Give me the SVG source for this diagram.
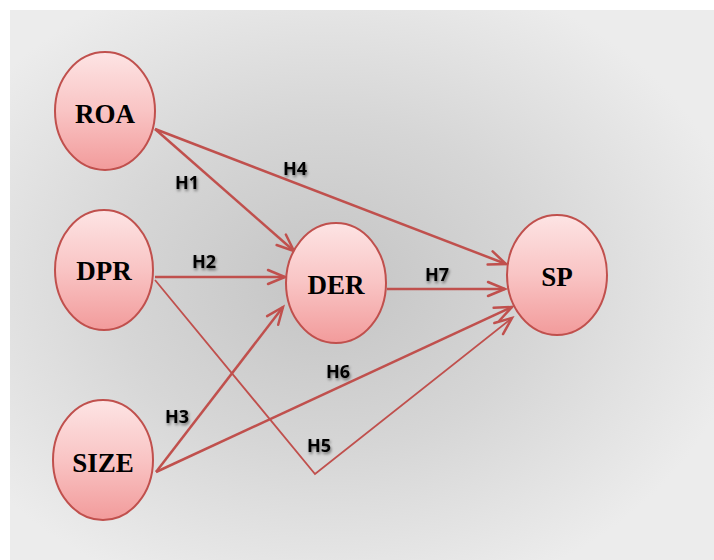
<svg xmlns="http://www.w3.org/2000/svg" width="714" height="560" viewBox="0 0 714 560">
<defs>
<radialGradient id="bg" cx="0.45" cy="0.5" r="0.6">
<stop offset="0" stop-color="#c4c4c4"/>
<stop offset="0.5" stop-color="#d6d6d6"/>
<stop offset="1" stop-color="#ececec"/>
</radialGradient>
<linearGradient id="nodeFill" x1="0" y1="0" x2="0" y2="1">
<stop offset="0" stop-color="#fde4e4"/>
<stop offset="0.5" stop-color="#f9c4c4"/>
<stop offset="1" stop-color="#f29b9b"/>
</linearGradient>
<marker id="arr" viewBox="0 0 12 12" refX="11" refY="6" markerWidth="12" markerHeight="12" markerUnits="userSpaceOnUse" orient="auto" overflow="visible">
<path d="M-6,-1 L11,6 L-6,13" fill="none" stroke="#c0504d" stroke-width="2.5" stroke-linecap="round" stroke-linejoin="miter"/>
</marker>
<filter id="shadow" x="-20%" y="-20%" width="150%" height="160%">
<feGaussianBlur in="SourceAlpha" stdDeviation="1.5"/>
<feOffset dx="1" dy="2" result="b"/>
<feComponentTransfer><feFuncA type="linear" slope="0.5"/></feComponentTransfer>
<feMerge><feMergeNode/><feMergeNode in="SourceGraphic"/></feMerge>
</filter>
</defs>
<style>
.node ellipse{fill:url(#nodeFill);stroke:#c0504d;stroke-width:2}
.node text{font-family:"Liberation Serif","Times New Roman",serif;font-weight:bold;font-size:27px;fill:#000;text-anchor:middle;dominant-baseline:central}
.edge{fill:none;stroke:#c0504d;stroke-width:2.5;marker-end:url(#arr)}
.thin{stroke-width:1.8}
.lbl{font-family:"Open Sans","Liberation Sans",sans-serif;font-weight:bold;font-size:18px;fill:#000;text-anchor:middle;dominant-baseline:central;filter:url(#shadow)}
</style>
<rect x="0" y="0" width="714" height="560" fill="#ffffff"/>
<rect x="10" y="10" width="704" height="550" fill="url(#bg)"/>
<g id="connectors">
<path class="edge" d="M155,129 L294,251"/>
<path class="edge" d="M155,129 L506,264"/>
<path class="edge" d="M155,277 L285,277"/>
<path class="edge" d="M387,289 L505,289"/>
<path class="edge thin" d="M155,280 L315,474 L512,318"/>
<path class="edge" d="M156,472 L283,307"/>
<path class="edge" d="M156,472 L512,307"/>
<text class="lbl" x="187" y="182">H1</text>
<text class="lbl" x="295" y="168">H4</text>
<text class="lbl" x="204" y="261">H2</text>
<text class="lbl" x="437" y="274">H7</text>
<text class="lbl" x="338" y="371">H6</text>
<text class="lbl" x="319" y="445">H5</text>
<text class="lbl" x="177" y="416">H3</text>
</g>
<g id="ROA" class="node"><ellipse cx="105" cy="111" rx="50" ry="59"/><text x="105" y="114">ROA</text></g>
<g id="DPR" class="node"><ellipse cx="104" cy="270" rx="49" ry="60"/><text x="104" y="271">DPR</text></g>
<g id="SIZE" class="node"><ellipse cx="103" cy="460" rx="50" ry="60"/><text x="103" y="463">SIZE</text></g>
<g id="DER" class="node"><ellipse cx="336" cy="283" rx="50" ry="60"/><text x="336" y="285">DER</text></g>
<g id="SP" class="node"><ellipse cx="557" cy="275" rx="50" ry="60"/><text x="557" y="277">SP</text></g>
</svg>
